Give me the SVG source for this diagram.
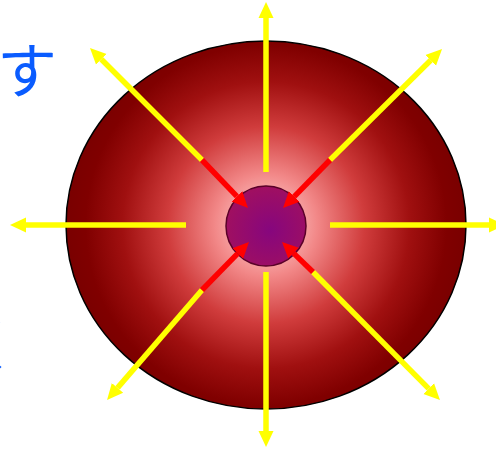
<svg xmlns="http://www.w3.org/2000/svg" width="496" height="449" viewBox="0 0 496 449">
  <defs>
    <radialGradient id="gBall" cx="266" cy="225" r="205" gradientUnits="userSpaceOnUse">
      <stop offset="0" stop-color="#ffe0e0"/>
      <stop offset="0.25" stop-color="#f28888"/>
      <stop offset="0.48" stop-color="#d03c3c"/>
      <stop offset="0.7" stop-color="#a01010"/>
      <stop offset="0.88" stop-color="#800000"/>
      <stop offset="1" stop-color="#780000"/>
    </radialGradient>
    <radialGradient id="gCore" cx="0.55" cy="0.55" r="0.6">
      <stop offset="0" stop-color="#86067e"/>
      <stop offset="1" stop-color="#a2105e"/>
    </radialGradient>
    <marker id="hy" markerUnits="userSpaceOnUse" markerWidth="20" markerHeight="20" viewBox="0 -10 20 20" refX="0" refY="0" orient="auto">
      <path d="M0,-7.5 L16,0 L0,7.5 z" fill="#ffff00"/>
    </marker>
    <marker id="hr" markerUnits="userSpaceOnUse" markerWidth="20" markerHeight="20" viewBox="0 -10 20 20" refX="0" refY="0" orient="auto">
      <path d="M0,-7.5 L16,0 L0,7.5 z" fill="#ff0000"/>
    </marker>
  </defs>
  <style>
    .y { stroke: #ffff00; stroke-width: 5.5; fill: none; marker-end: url(#hy); }
    .r { stroke: #ff0000; stroke-width: 5.5; fill: none; marker-end: url(#hr); }
    .jp { font-family: "Noto Sans CJK JP", "Noto Sans", sans-serif; font-size: 60px; fill: #0a5cff; }
  </style>
  <text class="jp" x="-3" y="93">す</text>
  <text class="jp" x="-42" y="367">く</text>
  <g id="ball">
    <ellipse cx="266" cy="225" rx="200" ry="184" fill="url(#gBall)" stroke="#000" stroke-width="1.5"/>
  </g>
  <g id="connectors">
    <line class="y" x1="266" y1="172" x2="266" y2="18"/>
    <line class="y" x1="266" y1="272" x2="266" y2="431"/>
    <line class="y" x1="186" y1="225" x2="26" y2="225"/>
    <line class="y" x1="330" y1="225" x2="489" y2="225"/>
    <line class="y" x1="202" y1="160" x2="101.3" y2="59.3"/>
    <line class="y" x1="330" y1="160" x2="430.7" y2="60.3"/>
    <line class="y" x1="202" y1="290" x2="117.5" y2="387.9"/>
    <line class="y" x1="313" y1="272" x2="428.7" y2="388.6"/>
  </g>
  <g id="core">
    <circle cx="266" cy="226" r="40" fill="url(#gCore)" stroke="#5a0028" stroke-width="1.5"/>
  </g>
  <g id="connectors-in">
    <line class="r" x1="202" y1="160" x2="236.9" y2="196.4"/>
    <line class="r" x1="330" y1="160" x2="294.2" y2="196.6"/>
    <line class="r" x1="202" y1="290" x2="237.8" y2="253.4"/>
    <line class="r" x1="313" y1="272" x2="293.5" y2="253.1"/>
  </g>
</svg>
